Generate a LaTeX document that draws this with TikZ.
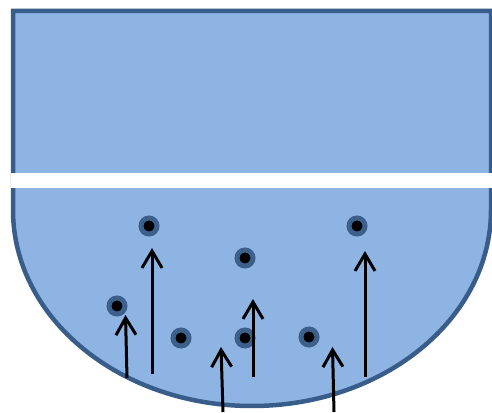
\documentclass[tikz,border=0pt]{standalone}
\usepackage{tikz}
\usetikzlibrary{arrows.meta}
\definecolor{tankfill}{HTML}{8EB4E3}
\definecolor{tankedge}{HTML}{385D8A}
\definecolor{dotblue}{HTML}{3D5F8C}
\tikzset{
    tank/.style={fill=tankfill, draw=tankedge, line width=4.5pt},
    band/.style={fill=white, draw=none},
    particle/.style={circle, fill=black, draw=dotblue, line width=5pt, inner sep=0pt, minimum size=16pt},
    rise/.style={-{Straight Barb[length=17pt, width=20pt]}, line width=3pt, draw=black}
}
\begin{document}
\begin{tikzpicture}[x=1pt, y=1pt]
        \useasboundingbox (0,0) rectangle (492,412);

        % vessel with rounded bottom
        \draw[tank] (13,202) -- (13,401) -- (491,401) -- (491,202)
            arc[start angle=0, end angle=-180, x radius=239, y radius=196] -- cycle;
        \fill[band] (11,224) rectangle (492,239);

        % particles
        \node[particle] (p1) at (149,186) {};
        \node[particle] (p2) at (357,186) {};
        \node[particle] (p3) at (245,154) {};
        \node[particle] (p4) at (117,106) {};
        \node[particle] (p5) at (181,74) {};
        \node[particle] (p6) at (245,74) {};
        \node[particle] (p7) at (309,75) {};

        % upward flow
        \coordinate (a1s) at (127,34);   \coordinate (a1e) at (125.5,97);
        \coordinate (a2s) at (152,38);   \coordinate (a2e) at (152,164);
        \coordinate (a3s) at (223,0);    \coordinate (a3e) at (221,65);
        \coordinate (a4s) at (253,35);   \coordinate (a4e) at (253,113);
        \coordinate (a5s) at (334,0);    \coordinate (a5e) at (332.5,65);
        \coordinate (a6s) at (365,35);   \coordinate (a6e) at (365,161);
        \foreach \i in {1,...,6}
            \draw[rise] (a\i s) -- (a\i e);
    \end{tikzpicture}
\end{document}
